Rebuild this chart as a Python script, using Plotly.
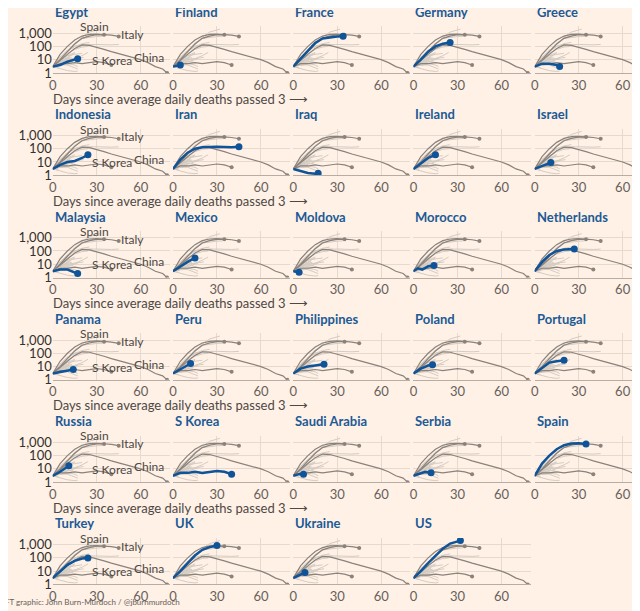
import plotly.graph_objects as go

countries = ["Egypt","Finland","France","Germany","Greece",
             "Indonesia","Iran","Iraq","Ireland","Israel",
             "Malaysia","Mexico","Moldova","Morocco","Netherlands",
             "Panama","Peru","Philippines","Poland","Portugal",
             "Russia","S Korea","Saudi Arabia","Serbia","Spain",
             "Turkey","UK","Ukraine","US"]

days = {
 "Egypt":[0,5,10,14,17], "Finland":[0,3,5], "France":[0,5,10,15,20,25,30,34],
 "Germany":[0,5,10,15,20,25], "Greece":[0,5,10,15,17],
 "Indonesia":[0,5,10,15,20,24], "Iran":[0,5,10,15,20,30,40,45], "Iraq":[0,5,10,15,17],
 "Ireland":[0,5,10,15], "Israel":[0,5,11],
 "Malaysia":[0,5,10,15,17], "Mexico":[0,5,10,15], "Moldova":[0,4], "Morocco":[0,3,6,10,14],
 "Netherlands":[0,5,10,15,20,27],
 "Panama":[0,5,10,14], "Peru":[0,5,10,12], "Philippines":[0,5,10,15,21], "Poland":[0,5,10,13],
 "Portugal":[0,5,10,15,20],
 "Russia":[0,5,11], "S Korea":[0,5,10,15,20,25,30,35,40], "Saudi Arabia":[0,4,7],
 "Serbia":[0,5,8,12], "Spain":[0,5,10,15,20,25,30,35],
 "Turkey":[0,5,10,15,20,24], "UK":[0,5,10,15,20,25,30], "Ukraine":[0,4,8],
 "US":[0,5,10,15,20,25,30,32],
}
deaths = {
 "Egypt":[3,4,7,10,12], "Finland":[3,3.5,4], "France":[3,12,50,180,400,500,550,580],
 "Germany":[3,10,40,100,160,200], "Greece":[3,5,5,4,3],
 "Indonesia":[3,6,10,12,20,35], "Iran":[3,15,50,100,130,140,130,140], "Iraq":[3,2,1.5,1.3,1.4],
 "Ireland":[3,8,20,35], "Israel":[3,5,9],
 "Malaysia":[3,4,4,2.5,2], "Mexico":[3,7,15,30], "Moldova":[3,2.5], "Morocco":[3,5,4,7,8],
 "Netherlands":[3,15,50,100,130,140],
 "Panama":[3,4,5,6], "Peru":[3,6,12,17], "Philippines":[3,7,10,12,15], "Poland":[3,7,12,14],
 "Portugal":[3,8,20,25,30],
 "Russia":[3,6,17], "S Korea":[3,5,5,6,5,6,7,6,4], "Saudi Arabia":[3,4,4],
 "Serbia":[3,5,6,5], "Spain":[3,25,100,300,600,800,850,750],
 "Turkey":[3,10,30,60,90,100], "UK":[3,10,40,150,400,650,850], "Ukraine":[3,5,8],
 "US":[3,10,40,150,500,1200,1800,2000],
}
italy_days = [0,5,10,15,20,25,30,35,40,45]
italy_vals = [3,10,40,150,400,600,750,780,700,560]
china_days = [0,5,10,15,20,25,30,35,40,45,50,55,60,65,70,75,78]
china_vals = [3,8,25,70,130,120,90,60,40,28,20,14,10,6,3,2,1]
xticks = [0, 30, 60]
yticks = [1, 10, 100, 1000]
yticklabels = ["1", "10", "100", "1,000"]

BG = "#fff1e5"; BLUE = "#0f5499"; DARK = "#8a827b"; LIGHT = "#d4cbc2"
W, H = 640, 611
OFFX, OFFY = 11, 10
col_x0 = [52, 173, 294, 415, 537]
row_bot = [74, 178, 282, 386, 490, 594]
PW = 118; DEC = 13.5; YTOP = 3.5
def px(x): return (x - OFFX) / W
def py(y): return 1 - (y - OFFY) / H
fig = go.Figure()
anns = []
for i, c in enumerate(countries):
    r, k = divmod(i, 5)
    n = i + 1
    xa = "x" if n == 1 else f"x{n}"; ya = "y" if n == 1 else f"y{n}"
    x0 = col_x0[k]; x1 = min(x0 + PW, W + OFFX - 1)
    xmax = 80 * (x1 - x0) / PW
    yb = row_bot[r]; yt = yb - DEC * YTOP
    fig.update_layout(**{
        ("xaxis" if n == 1 else f"xaxis{n}"): dict(domain=[px(x0), px(x1)], anchor=ya, range=[0, xmax],
            tickvals=xticks, showgrid=True, gridcolor="#e6d9ce", zeroline=False,
            showline=True, linecolor="#b8ada3", ticks="", tickfont=dict(size=13, color="#66605c"),
            ticklabelstandoff=0),
        ("yaxis" if n == 1 else f"yaxis{n}"): dict(domain=[py(yb), py(yt)], anchor=xa, type="log",
            range=[0, YTOP], tickvals=yticks, ticktext=yticklabels, showticklabels=(k == 0),
            showgrid=True, gridcolor="#e6d9ce", zeroline=False, tickfont=dict(size=13, color="#33302e")),
    })
    for o in countries:
        if o in (c, "Spain", "S Korea"):
            continue
        fig.add_trace(go.Scatter(x=days[o], y=deaths[o], mode="lines", xaxis=xa, yaxis=ya,
                                 line=dict(color=LIGHT, width=1), hoverinfo="skip"))
    for dx, dy in ((italy_days, italy_vals), (china_days, china_vals),
                   (days["Spain"], deaths["Spain"]), (days["S Korea"], deaths["S Korea"])):
        fig.add_trace(go.Scatter(x=dx, y=dy, mode="lines", xaxis=xa, yaxis=ya,
                                 line=dict(color=DARK, width=1.2), hoverinfo="skip"))
        fig.add_trace(go.Scatter(x=[dx[-1]], y=[dy[-1]], mode="markers", xaxis=xa, yaxis=ya,
                                 marker=dict(color=DARK, size=4), hoverinfo="skip"))
    fig.add_trace(go.Scatter(x=days[c], y=deaths[c], mode="lines", xaxis=xa, yaxis=ya,
                             line=dict(color=BLUE, width=2.5)))
    fig.add_trace(go.Scatter(x=[days[c][-1]], y=[deaths[c][-1]], mode="markers", xaxis=xa, yaxis=ya,
                             marker=dict(color=BLUE, size=7)))
    anns.append(dict(x=px(x0), y=py(yb - 62), xref="paper", yref="paper", xanchor="left", yanchor="middle",
                     text=f"<b>{c}</b>", showarrow=False, font=dict(size=13, color="#1c5a96")))
    if k == 0:
        for t, lx, ly in (("Spain", 94, yb-47), ("Italy", 132, yb-39), ("China", 149, yb-16), ("S Korea", 112, yb-13)):
            anns.append(dict(x=px(lx), y=py(ly), xref="paper", yref="paper", text=t, showarrow=False,
                             font=dict(size=12, color="#4d4845"), xanchor="center", yanchor="middle"))
        if r < 5:
            anns.append(dict(x=px(50), y=py(yb + 26), xref="paper", yref="paper", xanchor="left",
                             yanchor="middle", showarrow=False,
                             text="Days since average daily deaths passed 3 ⟶",
                             font=dict(size=13, color="#4d4845")))
anns.append(dict(x=px(2), y=py(612), xref="paper", yref="paper", xanchor="left", yanchor="middle",
                 showarrow=False, text="FT graphic: John Burn-Murdoch / @jburnmurdoch",
                 font=dict(size=8, color="#66605c")))
fig.update_layout(width=W, height=H, margin=dict(l=0, r=0, t=0, b=0), paper_bgcolor=BG,
                  plot_bgcolor=BG, showlegend=False, annotations=anns,
                  font=dict(family="Lato, Roboto, sans-serif"))
fig.write_html("out.html")
